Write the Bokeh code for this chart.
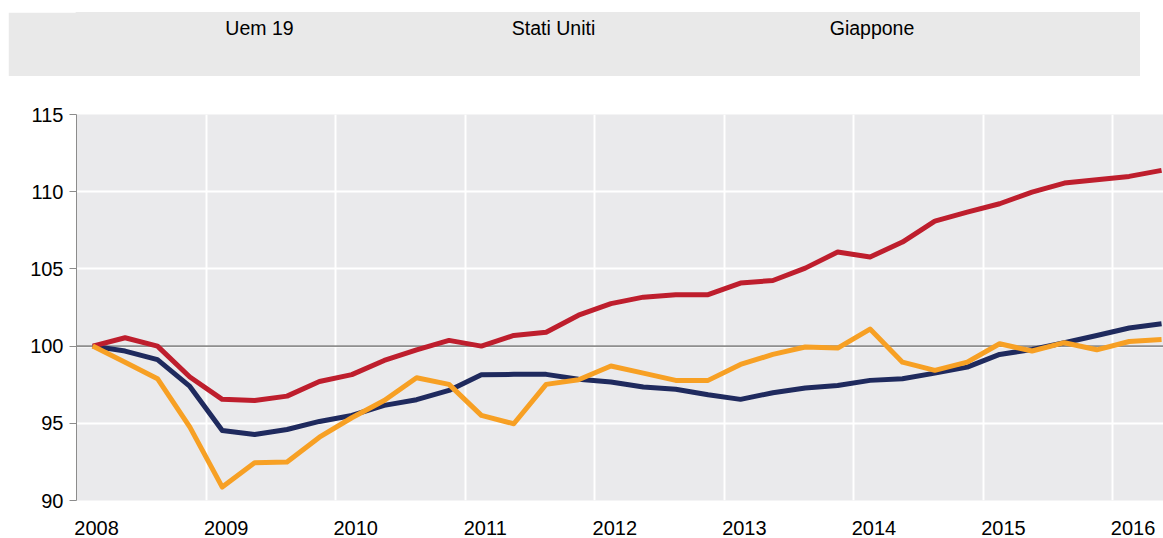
from bokeh.plotting import figure
from bokeh.models import FixedTicker, Span, ColumnDataSource, Range1d, Spacer
from bokeh.layouts import column, row
from bokeh.embed import file_html
from bokeh.resources import INLINE
from bokeh.core.properties import value

# ---------------- data ----------------
years = ["2008", "2009", "2010", "2011", "2012", "2013", "2014", "2015", "2016"]
series_names = ["Uem 19", "Stati Uniti", "Giappone"]
series_colors = ["#1F2A5E", "#BE1E2D", "#F7A024"]

# quarterly index, 2008Q1 = 100 (2008Q1 .. 2016Q2)
uem19 = [100.0, 99.68, 99.12, 97.39, 94.54, 94.28, 94.6, 95.12, 95.51, 96.16,
         96.53, 97.13, 98.15, 98.17, 98.17, 97.85, 97.67, 97.35, 97.2, 96.85,
         96.55, 96.98, 97.28, 97.45, 97.78, 97.89, 98.25, 98.64, 99.46, 99.78,
         100.22, 100.69, 101.17, 101.45]
stati_uniti = [100.0, 100.54, 100.0, 98.0, 96.55, 96.48, 96.76, 97.71, 98.15, 99.07,
               99.76, 100.37, 100.0, 100.69, 100.9, 102.0, 102.75, 103.17, 103.33, 103.33,
               104.08, 104.25, 105.05, 106.09, 105.77, 106.74, 108.1, 108.68, 109.22, 109.97,
               110.56, 110.78, 110.99, 111.38]
giappone = [100.0, 98.96, 97.89, 94.75, 90.87, 92.45, 92.49, 94.1, 95.36, 96.48,
            97.95, 97.52, 95.51, 94.97, 97.52, 97.82, 98.71, 98.25, 97.78, 97.78,
            98.81, 99.46, 99.94, 99.87, 101.1, 98.96, 98.43, 98.96, 100.15, 99.68,
            100.22, 99.76, 100.3, 100.43]
y_ticks = [90, 95, 100, 105, 110, 115]

series = [uem19, stati_uniti, giappone]
n = len(uem19)
idx = list(range(n))

FONT = "Liberation Sans"
PANEL = "#E9E9E9"

# ---------------- legend panel (page px 8..1140 x 12..76) ----------------
top = figure(width=1132, height=64, output_backend="svg", toolbar_location=None,
             x_axis_location=None, y_axis_location=None,
             x_range=Range1d(76, 1140), y_range=Range1d(76, 12),
             min_border_left=68, min_border_right=0, min_border_top=0, min_border_bottom=0)
top.background_fill_color = PANEL
top.border_fill_color = PANEL
top.outline_line_color = PANEL
top.outline_line_width = 2
top.grid.visible = False
leg_src = ColumnDataSource(dict(x=[259, 553, 871.5], y=[27, 27, 27], t=series_names))
top.text(x="x", y="y", text="t", source=leg_src, text_align="center",
         text_baseline="middle", text_font=value(FONT),
         text_font_size=value("19.5px"), text_color="black")

# ---------------- main chart ----------------
p = figure(width=1163, height=462, output_backend="svg", toolbar_location=None,
           x_range=Range1d(-0.5, 33.06), y_range=Range1d(90, 115),
           min_border_left=76, min_border_right=0, min_border_top=38, min_border_bottom=38)
p.background_fill_color = "#EAEAEC"
p.border_fill_color = "white"
p.outline_line_color = None

# grids
p.xgrid.ticker = FixedTicker(ticks=[3.5 + 4 * k for k in range(8)])
p.ygrid.ticker = FixedTicker(ticks=y_ticks)
p.grid.grid_line_color = "white"
p.grid.grid_line_width = 2

# x axis: year labels, no line / ticks
label_pos = [4 * k + 0.12 for k in range(len(years))]
p.xaxis.ticker = FixedTicker(ticks=label_pos)
p.xaxis.major_label_overrides = {pos: yr for pos, yr in zip(label_pos, years)}
p.xaxis.axis_line_color = None
p.xaxis.major_tick_line_color = None
p.xaxis.minor_tick_line_color = None
p.xaxis.major_tick_out = 0
p.xaxis.major_tick_in = 0
p.xaxis.major_label_standoff = 20

# y axis
p.yaxis.ticker = FixedTicker(ticks=y_ticks)
p.yaxis.axis_line_color = "#8C8C8C"
p.yaxis.major_tick_line_color = "#8C8C8C"
p.yaxis.minor_tick_line_color = None
p.yaxis.major_tick_out = 7
p.yaxis.major_tick_in = 0
p.yaxis.major_label_standoff = 6

for ax in (p.xaxis, p.yaxis):
    ax.major_label_text_font = FONT
    ax.major_label_text_font_size = "20px"
    ax.major_label_text_color = "black"

ref = Span(location=100, dimension="width", line_color="#1E1E1E",
           line_width=1.6, line_dash="1 1", level="underlay")
p.add_layout(ref)

for vals, col in zip(series, series_colors):
    p.line(idx, vals, line_color=col, line_width=5, line_join="round")

layout = column(Spacer(height=12), row(Spacer(width=8), top, spacing=0), p, spacing=0)
open("out.html", "w").write(file_html(layout, INLINE))
